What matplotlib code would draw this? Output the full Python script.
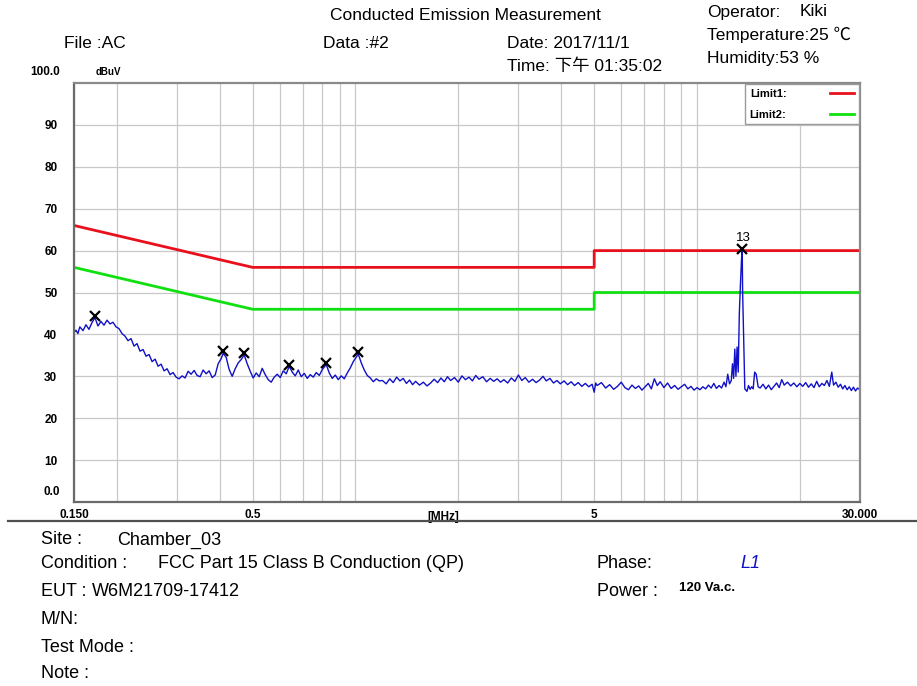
import matplotlib
matplotlib.use("Agg")
import matplotlib.pyplot as plt
from matplotlib.lines import Line2D

plt.rcParams['font.family'] = ['Liberation Sans', 'Noto Sans CJK SC', 'DejaVu Sans']

# limit lines (MHz, dBuV)
limit1_mhz = [0.15, 0.5, 5.0, 5.0, 30.0]
limit1_dbuv = [66, 56, 56, 60, 60]
limit2_mhz = [0.15, 0.5, 5.0, 5.0, 30.0]
limit2_dbuv = [56, 46, 46, 50, 50]

trace_mhz = [
    0.150, 0.1502, 0.152, 0.154, 0.156, 0.1594, 0.1626, 0.1659, 0.1693, 0.1728,
    0.1763, 0.1799, 0.1836, 0.1874, 0.1912, 0.1951, 0.1991, 0.2031, 0.2073, 0.2115,
    0.2159, 0.2203, 0.2248, 0.2294, 0.2341, 0.2389, 0.2438, 0.2488, 0.2539, 0.2591,
    0.2644, 0.2698, 0.2753, 0.2809, 0.2867, 0.2925, 0.2985, 0.3046, 0.3109, 0.3172,
    0.3237, 0.3303, 0.3371, 0.3440, 0.3510, 0.3582, 0.3656, 0.3730, 0.3807, 0.3885,
    0.3964, 0.4045, 0.4100, 0.4184, 0.4270, 0.4357, 0.4446, 0.4537, 0.4630, 0.4724,
    0.4821, 0.4920, 0.5020, 0.5123, 0.5228, 0.5334, 0.5443, 0.5555, 0.5668, 0.5784,
    0.5902, 0.6023, 0.6146, 0.6272, 0.6400, 0.6531, 0.6665, 0.6801, 0.6940, 0.7082,
    0.7227, 0.7375, 0.7526, 0.7680, 0.7837, 0.7997, 0.8214, 0.8382, 0.8553, 0.8728,
    0.8907, 0.9089, 0.9274, 0.9464, 0.9658, 0.9855, 1.0194, 1.0402, 1.0614, 1.0831,
    1.1053, 1.1279, 1.1510, 1.1745,
    1.20, 1.23, 1.26, 1.29, 1.32, 1.35, 1.38, 1.41, 1.44, 1.47,
    1.50, 1.54, 1.58, 1.62, 1.66, 1.70, 1.74, 1.78, 1.82, 1.86,
    1.90, 1.95, 2.00, 2.05, 2.10, 2.15, 2.20, 2.25, 2.30, 2.36,
    2.42, 2.48, 2.54, 2.60, 2.66, 2.72, 2.79, 2.86, 2.93, 3.00,
    3.07, 3.14, 3.22, 3.30, 3.38, 3.46, 3.54, 3.62, 3.71, 3.80,
    3.89, 3.98, 4.08, 4.18, 4.28, 4.38, 4.49, 4.60, 4.71, 4.82,
    4.93, 5.00, 5.05,
    5.10, 5.25, 5.40, 5.55, 5.70, 5.85, 6.00, 6.15, 6.30, 6.45,
    6.60, 6.75, 6.90, 7.05, 7.20, 7.35, 7.50, 7.65, 7.80, 8.00,
    8.20, 8.40, 8.60, 8.80, 9.00, 9.20, 9.40, 9.60, 9.80, 10.0,
    10.2, 10.4, 10.6, 10.8, 11.0, 11.2, 11.4, 11.6, 11.8, 12.0,
    12.15, 12.3, 12.45, 12.6, 12.7, 12.8, 12.9, 13.0, 13.1, 13.2,
    13.3, 13.4, 13.5, 13.56, 13.6, 13.7, 13.8, 14.0, 14.15, 14.3,
    14.45, 14.6, 14.75, 14.9, 15.0, 15.1,
    15.3, 15.6, 15.9, 16.2, 16.5, 16.8, 17.1, 17.4, 17.7, 18.0,
    18.4, 18.8, 19.2, 19.6, 20.0, 20.4, 20.8, 21.2, 21.6, 22.0,
    22.4, 22.8, 23.2, 23.6, 24.0, 24.4, 24.8, 25.1, 25.5, 25.9,
    26.3, 26.7, 27.1, 27.5, 27.9, 28.3, 28.7, 29.1, 29.5, 30.0,
]
trace_dbuv = [
    33.0, 40.5, 41.0, 40.2, 41.8, 40.9, 42.3, 41.2, 42.8, 44.0,
    42.0, 43.1, 42.2, 43.4, 42.5, 42.9, 41.8, 41.4, 40.2, 39.6,
    38.5, 39.0, 37.2, 37.8, 36.0, 36.4, 34.8, 35.2, 33.5, 34.1,
    32.4, 32.9, 31.3, 31.8, 30.4, 30.9, 29.8, 29.4, 30.1, 29.6,
    31.2, 30.5, 31.4, 30.2, 29.9, 31.5, 30.6, 31.3, 29.7, 30.3,
    33.0, 34.2, 35.5, 34.5, 31.6, 30.0, 31.8, 33.2, 34.0, 35.1,
    33.0, 31.2, 29.6, 30.8, 29.9, 31.9, 30.4, 29.2, 28.6, 29.8,
    30.5, 29.7, 31.3, 30.6, 32.4, 31.0, 30.1, 31.5, 29.9, 30.7,
    29.5, 30.4, 29.8, 30.9, 30.2, 31.6, 32.8, 30.8, 29.5, 30.3,
    29.2, 30.1, 29.4, 30.8, 32.0, 33.5, 35.3, 33.2, 31.5, 30.2,
    29.6, 28.7, 29.4, 28.9,
    29.0, 28.2, 29.4, 28.5, 29.8, 28.9, 29.5, 28.3, 29.1, 28.0,
    28.8, 27.9, 28.6, 27.7, 28.4, 29.3, 28.5, 29.6, 28.7, 29.9,
    29.0, 29.7, 28.6, 30.1, 29.2, 29.8, 28.9, 30.2, 29.3, 29.9,
    28.7, 29.5, 28.8, 29.4, 28.6, 29.2, 28.4, 29.6, 28.8, 30.3,
    29.0, 29.7, 28.6, 29.3, 28.5, 29.1, 30.0, 28.9, 29.5, 28.4,
    29.0, 28.2, 28.9, 28.0, 28.7, 27.8, 28.5, 27.6, 28.3, 27.5,
    28.1, 26.2, 28.4,
    27.8, 28.5, 27.2, 28.0, 26.9, 27.6, 28.6, 27.3, 26.8, 27.9,
    27.1, 27.7, 26.7, 27.5, 28.3, 27.0, 29.4, 27.8, 28.7, 27.3,
    28.4, 27.1, 27.8, 26.9, 27.5, 28.1, 27.0, 27.6, 26.7, 27.3,
    26.8, 27.5, 27.0, 27.9, 27.2, 28.3, 27.1, 27.8, 27.2, 28.6,
    27.5, 30.5, 28.2, 29.0, 33.0, 29.5, 36.5, 30.0, 37.0, 31.0,
    45.0, 52.0, 58.0, 60.4, 50.0, 38.0, 27.0, 26.4, 27.8, 26.9,
    27.5, 27.0, 31.0, 30.5, 29.0, 27.5,
    27.2, 28.1, 27.0, 27.9, 26.8, 27.6, 28.4, 27.3, 29.2, 27.9,
    28.6, 27.7, 28.4, 27.5, 28.3, 27.6, 28.5, 27.4, 28.2, 27.3,
    28.8, 27.5, 28.3, 27.8, 29.0, 27.6, 31.0, 27.9, 28.6, 27.4,
    28.1, 27.0, 27.8, 26.8, 27.5, 26.6, 27.4, 26.5, 27.2, 26.8,
]

# marked peaks
peak_mhz = [0.173, 0.410, 0.472, 0.640, 0.821, 1.019, 13.56]
peak_dbuv = [44.5, 36.0, 35.5, 32.8, 33.1, 35.7, 60.4]

W, H = 917, 686
fig = plt.figure(figsize=(W / 100, H / 100), dpi=100)
ax = fig.add_axes([74 / W, 1 - 502 / H, 786 / W, 419 / H])

ax.plot(limit1_mhz, limit1_dbuv, color='#e8101c', lw=2, label='Limit1:')
ax.plot(limit2_mhz, limit2_dbuv, color='#10e010', lw=2, label='Limit2:')
ax.plot(trace_mhz, trace_dbuv, color='#1010c8', lw=1.0)
ax.plot(peak_mhz, peak_dbuv, 'x', color='black', ms=7, mew=1.6)
ax.text(peak_mhz[-1] * 1.01, peak_dbuv[-1] + 1.2, '13', fontsize=9.5, ha='center', va='bottom')

ax.set_xscale('log')
ax.set_xlim(0.15, 30)
ax.set_ylim(0, 100)

ax.set_xticks([0.15, 0.5, 5, 30])
ax.set_xticklabels(['0.150', '0.5', '5', '30.000'], fontsize=8.5, fontweight='bold')
ax.set_xticks([0.2, 0.3, 0.4, 0.6, 0.7, 0.8, 0.9, 1, 2, 3, 4, 6, 7, 8, 9, 10, 20], minor=True)
ax.xaxis.set_minor_formatter(plt.NullFormatter())
ax.set_yticks([10, 20, 30, 40, 50, 60, 70, 80, 90])
ax.set_yticklabels(['10', '20', '30', '40', '50', '60', '70', '80', '90'], fontsize=8.5, fontweight='bold')
ax.tick_params(axis='both', which='both', length=0)
ax.tick_params(axis='x', pad=5)
ax.tick_params(axis='y', pad=21.5)
for lbl in ax.get_yticklabels():
    lbl.set_horizontalalignment('left')
ax.grid(True, which='both', color='#c8c8c8', lw=0.9)
ax.set_axisbelow(True)
for s in ax.spines.values():
    s.set_color('#8a8a8a')
    s.set_linewidth(1.6)
ax.spines['left'].set_color('#6a6a6a')
ax.spines['bottom'].set_color('#6a6a6a')

ax.text(0.47, -0.021, '[MHz]', transform=ax.transAxes, ha='center', va='top', fontsize=8.5, fontweight='bold')
ax.text(-0.0385, 0.025, '0.0', transform=ax.transAxes, ha='left', va='center', fontsize=8.5, fontweight='bold')

leg = ax.legend(loc='upper right', markerfirst=False, fancybox=False, edgecolor='#9a9a9a',
                framealpha=1, borderaxespad=0.12, handlelength=2.2, handletextpad=3.9,
                labelspacing=1.0, prop={'size': 8, 'weight': 'bold'})
leg.get_frame().set_linewidth(1.0)


def ftxt(x, y, s, **kw):
    kw.setdefault('fontsize', 12.5)
    fig.text(x / W, 1 - y / H, s, va='center', ha='left', **kw)


ftxt(330, 16, 'Conducted Emission Measurement')
ftxt(707, 12, 'Operator:')
ftxt(800, 12, 'Kiki')
ftxt(707, 35, 'Temperature:25 \u2103')
ftxt(707, 58, 'Humidity:53 %')
ftxt(64, 43, 'File :AC')
ftxt(323, 43, 'Data :#2')
ftxt(507, 43, 'Date: 2017/11/1')
ftxt(507, 66, 'Time: 下午 01:35:02')
ftxt(30, 72, '100.0', fontsize=8.5, fontweight='bold')
ftxt(96, 72, 'dBuV', fontsize=7, fontweight='bold')

fig.add_artist(Line2D([8 / W, 1], [1 - 521 / H] * 2, color='#505050', lw=1.6))

ftxt(41, 540, 'Site :', fontsize=13)
ftxt(117, 540, 'Chamber_03', fontsize=13)
ftxt(41, 563, 'Condition :', fontsize=13)
ftxt(158, 563, 'FCC Part 15 Class B Conduction (QP)', fontsize=13)
ftxt(597, 563, 'Phase:', fontsize=13)
ftxt(740, 563, 'L1', color='#1010c8', fontstyle='italic', fontsize=13)
ftxt(41, 591, 'EUT :', fontsize=13)
ftxt(92, 591, 'W6M21709-17412', fontsize=13)
ftxt(597, 592, 'Power :', fontsize=13)
ftxt(679, 588, '120 Va.c.', fontsize=9.5, fontweight='bold')
ftxt(41, 619, 'M/N:', fontsize=13)
ftxt(41, 647, 'Test Mode :', fontsize=13)
ftxt(41, 674, 'Note :', fontsize=13)

fig.savefig('out.png', dpi=100)
